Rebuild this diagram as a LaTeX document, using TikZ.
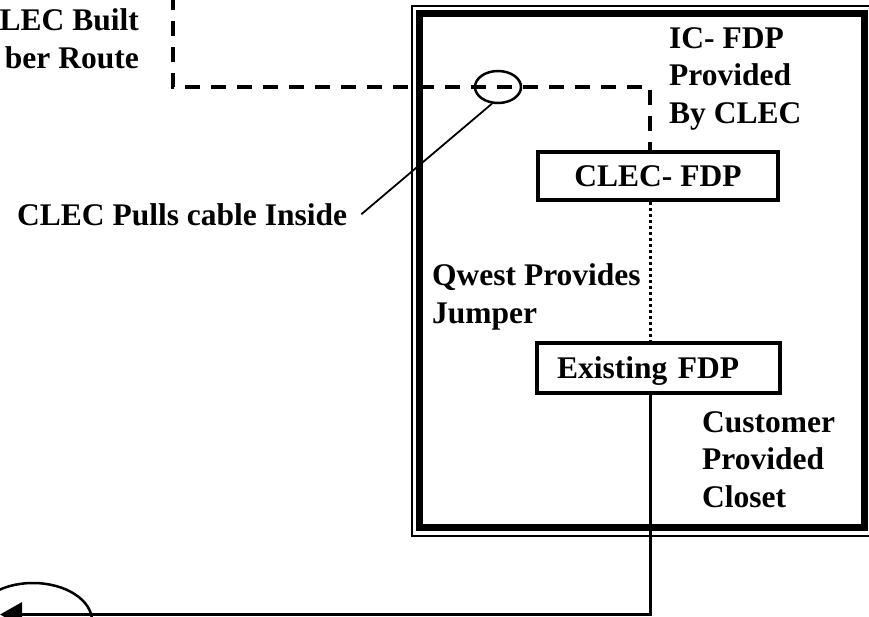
\documentclass[tikz,border=0pt]{standalone}
\usepackage{fontspec}
\setmainfont{Liberation Serif}
\usetikzlibrary{arrows.meta,positioning,shapes.geometric}

\begin{document}
\begin{tikzpicture}[
  x=1pt, y=-1pt,
  font=\fontsize{31.5}{37.5}\selectfont\bfseries,
  lbl/.style={anchor=base west, inner sep=0pt, align=left},
  fdpbox/.style={draw, line width=3.5pt, minimum width=240pt, minimum height=48pt, inner sep=0pt},
  ring/.style={ellipse, draw, line width=2.5pt, inner sep=0pt},
  fiber/.style={line width=3.5pt, dash pattern=on 15pt off 11pt},
  jumper/.style={line width=3pt, dash pattern=on 3pt off 3pt},
  cable/.style={line width=3pt},
  leader/.style={line width=1.8pt},
]
\useasboundingbox (0,0) rectangle (869,616);

% ---------- customer provided closet ----------
\draw[line width=1.5pt] (412,6) rectangle (878,536);
\draw[line width=7pt] (419,13) rectangle (864,527);

% ---------- frames ----------
\node[fdpbox] (clec) at (658,176) {CLEC- FDP};
\node[fdpbox, minimum width=243pt, minimum height=50pt, text width=203pt,
  inner xsep=20pt, align=left, text depth=0pt] (exist) at (658.5,368) {Existing FDP};

% ---------- labels (base = last line) ----------
\node[anchor=base east, inner sep=0pt, align=right] (built) at (139,68) {LEC Built\\ber Route};
\node[lbl] (pulls) at (17,225) {CLEC Pulls cable Inside};
\node[lbl] (icfdp) at (669,123) {IC- FDP\\Provided\\By CLEC};
\node[lbl] (qwest) at (432,323) {Qwest Provides\\Jumper};
\node[lbl] (cust) at (702,507) {Customer\\Provided\\Closet};

% ---------- fiber route ----------
\coordinate (routestart) at (173,-5);
\coordinate (bend) at (650,87);
\draw[fiber] (routestart) |- (bend) -- (bend |- clec.north);
\node[ring, minimum width=46pt, minimum height=32pt] (entry) at (498,87) {};
\draw[leader] ([xshift=14pt]pulls.east) -- (entry.250);

% ---------- jumper and cable ----------
\draw[jumper] (clec.south -| bend) -- (exist.north -| bend);
\coordinate (tip) at (0,614.5);
\draw[cable, -{Triangle[length=22pt,width=24pt]}] (exist.south -| bend) |- (tip);
\node[ring, minimum width=118pt, minimum height=76pt] (handoff) at (33,621) {};

\end{tikzpicture}
\end{document}
